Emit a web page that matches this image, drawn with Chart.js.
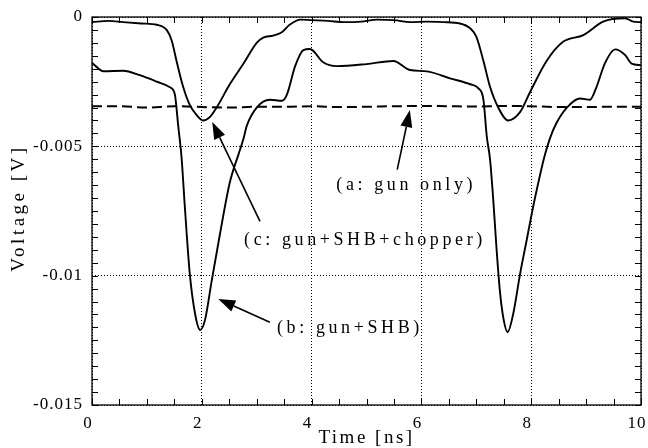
<!DOCTYPE html>
<html>
<head>
<meta charset="utf-8">
<script src="https://cdn.jsdelivr.net/npm/chart.js@4.4.0/dist/chart.umd.min.js"></script>
<style>
  html, body { margin: 0; padding: 0; background: #fff; }
  #wrap { width: 648px; height: 448px; }
</style>
</head>
<body>
<div id="wrap"><canvas id="voltChart"></canvas></div>
<script>
// (a: gun only) - dashed, roughly flat
const aTime = [0, 0.5, 1, 1.5, 2, 2.5, 3, 3.5, 4, 4.5, 5, 5.5, 6, 6.5, 7, 7.5, 8, 8.5, 9, 9.5, 10];
const aVolt = [-0.00345, -0.00345, -0.0035, -0.00345, -0.00348, -0.0035, -0.00347, -0.00347, -0.00345, -0.00348,
  -0.00347, -0.00345, -0.00344, -0.00345, -0.00346, -0.00344, -0.00345, -0.00348, -0.00348, -0.00347, -0.00347];

// (b: gun+SHB)
const bTime = [0, 0.21, 0.57, 0.87, 1.18, 1.42, 1.51, 1.57, 1.63, 1.69, 1.78, 1.88, 1.97, 2.06, 2.18, 2.33, 2.51,
  2.67, 2.76, 2.82, 3.0, 3.24, 3.46, 3.55, 3.7, 3.85, 3.97, 4.21, 4.46, 5.0, 5.49, 5.79, 6.1, 6.52, 6.89, 7.04,
  7.13, 7.19, 7.25, 7.31, 7.37, 7.43, 7.49, 7.57, 7.67, 7.8, 7.92, 8.02, 8.13, 8.24, 8.34, 8.46, 8.65, 8.89, 9.07,
  9.19, 9.34, 9.53, 9.71, 9.83, 10];
const bVolt = [-0.00177, -0.0021, -0.00208, -0.00225, -0.0025, -0.00272, -0.003, -0.0042, -0.0054, -0.0073, -0.0099,
  -0.0115, -0.0121, -0.0117, -0.0102, -0.0084, -0.0064, -0.0053, -0.0047, -0.0042, -0.0035, -0.0032, -0.00324,
  -0.003, -0.0019, -0.00128, -0.00124, -0.00175, -0.0019, -0.00182, -0.0017, -0.00205, -0.0021, -0.00237, -0.0026,
  -0.00276, -0.0032, -0.0046, -0.0055, -0.0071, -0.009, -0.0106, -0.0116, -0.01218, -0.0115, -0.0099, -0.0086,
  -0.0075, -0.0064, -0.0054, -0.0047, -0.0041, -0.0035, -0.00315, -0.0032, -0.0027, -0.0018, -0.00125, -0.00147,
  -0.0018, -0.00186];

// (c: gun+SHB+chopper)
const cTime = [0, 0.3, 0.57, 0.9, 1.18, 1.36, 1.45, 1.54, 1.66, 1.78, 1.91, 2.02, 2.15, 2.27, 2.51, 2.76, 3.0, 3.12,
  3.3, 3.45, 3.6, 3.8, 4.0, 4.3, 4.6, 4.9, 5.2, 5.5, 5.8, 6.1, 6.4, 6.7, 6.89, 7.0, 7.13, 7.25, 7.4, 7.58, 7.8,
  7.98, 8.28, 8.58, 8.95, 9.31, 9.71, 9.86, 10];
const cVolt = [-0.0002, -0.00015, -0.0002, -0.00025, -0.0003, -0.0005, -0.0009, -0.0017, -0.0027, -0.0034, -0.0038,
  -0.004, -0.00386, -0.0035, -0.0026, -0.0018, -0.001, -0.0008, -0.00072, -0.0006, -0.0003, -0.0001, -0.00012,
  -0.00015, -0.0002, -0.00018, -0.0001, -0.00012, -0.0002, -0.00018, -0.0002, -0.00025, -0.00044, -0.00076, -0.0017,
  -0.0027, -0.0035, -0.004, -0.00367, -0.0029, -0.0017, -0.00096, -0.0007, -0.00018, -0.00005, -0.00018, -0.0002];

const xTickStep = 2;
const yTickStep = 0.005;

// labels with arrows, in data coordinates
const notes = [
  { text: '(a: gun only)',        at: [4.45, -0.0065],  from: [5.56, -0.0059], to: [5.79, -0.0036] },
  { text: '(c: gun+SHB+chopper)', at: [2.77, -0.00862], from: [3.06, -0.0079], to: [2.19, -0.00406] },
  { text: '(b: gun+SHB)',         at: [3.37, -0.01203], from: [3.24, -0.0118], to: [2.30, -0.0109] }
];

const pts = (ts, vs) => ts.map((t, i) => ({ x: t, y: vs[i] }));
const serif = '"Liberation Serif", "Times New Roman", serif';

function arrow(ctx, x1, y1, x2, y2) {
  const ang = Math.atan2(y2 - y1, x2 - x1);
  const len = 17, half = 6;
  const bx = x2 - len * Math.cos(ang), by = y2 - len * Math.sin(ang);
  ctx.beginPath();
  ctx.moveTo(x1, y1);
  ctx.lineTo(bx, by);
  ctx.stroke();
  ctx.beginPath();
  ctx.moveTo(x2, y2);
  ctx.lineTo(bx + half * Math.sin(ang), by - half * Math.cos(ang));
  ctx.lineTo(bx - half * Math.sin(ang), by + half * Math.cos(ang));
  ctx.closePath();
  ctx.fill();
}

const framePlugin = {
  id: 'frame',
  beforeDraw(chart) {
    chart.ctx.letterSpacing = '1px';
  },
  afterDraw(chart) {
    const { ctx, chartArea: a, scales: { x, y } } = chart;
    ctx.save();
    ctx.strokeStyle = '#000';
    ctx.fillStyle = '#000';
    ctx.setLineDash([]);

    // inward minor ticks on all four sides
    ctx.lineWidth = 1;
    ctx.beginPath();
    for (let k = 0; k <= 20; k++) {
      const px = Math.round(x.getPixelForValue(k * 0.5)) + 0.5;
      ctx.moveTo(px, a.bottom); ctx.lineTo(px, a.bottom - 6);
      ctx.moveTo(px, a.top); ctx.lineTo(px, a.top + 6);
    }
    for (let k = 0; k <= 30; k++) {
      const py = Math.round(y.getPixelForValue(-k * 0.0005)) + 0.5;
      ctx.moveTo(a.left, py); ctx.lineTo(a.left + 6, py);
      ctx.moveTo(a.right, py); ctx.lineTo(a.right - 6, py);
    }
    ctx.stroke();

    ctx.lineWidth = 1.3;
    ctx.strokeRect(a.left, a.top, a.right - a.left, a.bottom - a.top);

    // axis titles
    ctx.font = '19px ' + serif;
    ctx.textBaseline = 'middle';
    ctx.textAlign = 'center';
    ctx.letterSpacing = '2.5px';
    ctx.fillText('Time [ns]', (a.left + a.right) / 2, 438);
    ctx.save();
    ctx.translate(19, (a.top + a.bottom) / 2 - 3);
    ctx.rotate(-Math.PI / 2);
    ctx.letterSpacing = '3.5px';
    ctx.fillText('Voltage [V]', 0, 0);
    ctx.restore();

    // annotations
    ctx.font = '18px ' + serif;
    ctx.textAlign = 'left';
    ctx.letterSpacing = '3.6px';
    ctx.lineWidth = 1.6;
    notes.forEach(n => {
      ctx.fillText(n.text, x.getPixelForValue(n.at[0]), y.getPixelForValue(n.at[1]));
      arrow(ctx,
        x.getPixelForValue(n.from[0]), y.getPixelForValue(n.from[1]),
        x.getPixelForValue(n.to[0]), y.getPixelForValue(n.to[1]));
    });
    ctx.restore();
  }
};

const lineStyle = { borderColor: '#000', pointRadius: 0, fill: false, cubicInterpolationMode: 'monotone' };

new Chart(document.getElementById('voltChart'), {
  type: 'line',
  data: {
    datasets: [
      { ...lineStyle, label: 'a: gun only', data: pts(aTime, aVolt), borderWidth: 2, borderDash: [10, 5] },
      { ...lineStyle, label: 'b: gun+SHB', data: pts(bTime, bVolt), borderWidth: 1.9 },
      { ...lineStyle, label: 'c: gun+SHB+chopper', data: pts(cTime, cVolt), borderWidth: 1.9 }
    ]
  },
  options: {
    responsive: true,
    maintainAspectRatio: false,
    animation: false,
    layout: { padding: { top: 17, right: 7, left: 0, bottom: 0 } },
    plugins: { legend: { display: false }, tooltip: { enabled: false } },
    scales: {
      x: {
        type: 'linear',
        min: 0, max: 10,
        afterFit: s => { s.height = 43; s.paddingLeft = 0; s.paddingRight = 0; },
        ticks: { stepSize: xTickStep, color: '#000', padding: 8, labelOffset: -4, font: { family: serif, size: 17 } },
        grid: { color: '#000', lineWidth: 1, drawTicks: false },
        border: { display: false, dash: [1, 2] }
      },
      y: {
        min: -0.015, max: 0,
        afterFit: s => { s.width = 92; s.paddingTop = 0; s.paddingBottom = 0; },
        ticks: {
          stepSize: yTickStep, color: '#000', padding: 9, font: { family: serif, size: 17 },
          callback: v => Number(v.toFixed(4)).toString()
        },
        grid: { color: '#000', lineWidth: 1, drawTicks: false },
        border: { display: false, dash: [1, 2] }
      }
    }
  },
  plugins: [framePlugin]
});
</script>
</body>
</html>
